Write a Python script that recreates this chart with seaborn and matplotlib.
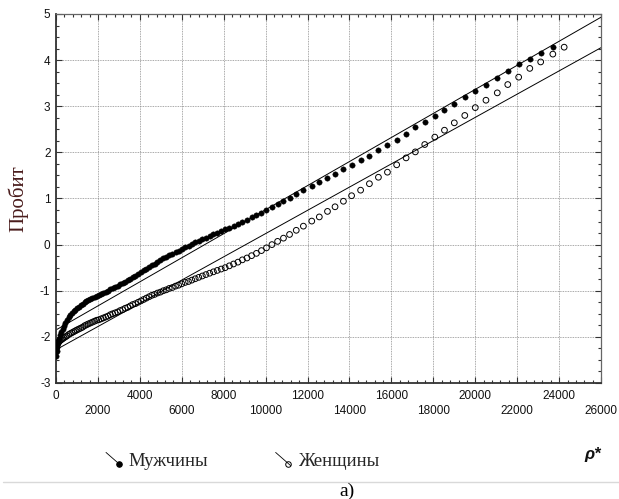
import matplotlib
matplotlib.use('Agg')
import matplotlib.pyplot as plt
from matplotlib.lines import Line2D
from matplotlib.legend_handler import HandlerBase
from matplotlib.ticker import MultipleLocator
import seaborn as sns
import pandas as pd

# rho* values (same grid for both groups, women have one extra point at the end)
rho_m = [0, 30, 60, 100, 150, 200, 260, 320, 380, 450, 520, 600, 680, 760, 840, 920,
         1000, 1090, 1180, 1270, 1360, 1450, 1540, 1640, 1740, 1840, 1940, 2040, 2150,
         2260, 2370, 2480, 2590, 2700, 2820, 2940, 3060, 3180, 3300, 3420, 3540, 3660,
         3790, 3920, 4050, 4180, 4310, 4440, 4570, 4700, 4840, 4980, 5120, 5260, 5400,
         5550, 5700, 5850, 6000, 6160, 6320, 6480, 6640, 6810, 6980, 7150, 7330, 7510,
         7690, 7880, 8070, 8270, 8470, 8680, 8890, 9110, 9330, 9560, 9800, 10040, 10300,
         10570, 10850, 11140, 11460, 11800, 12200, 12560, 12950, 13310, 13710, 14100,
         14530, 14950, 15380, 15810, 16250, 16700, 17140, 17590, 18070, 18530, 19000,
         19500, 20000, 20510, 21050, 21550, 22070, 22600, 23120, 23700]
rho_f = rho_m + [24240]

probit_m = [-2.42, -2.30, -2.22, -2.13, -2.04, -1.97, -1.89, -1.82, -1.76, -1.69, -1.64,
            -1.58, -1.53, -1.49, -1.45, -1.41, -1.38, -1.35, -1.32, -1.29, -1.25, -1.23,
            -1.20, -1.18, -1.16, -1.14, -1.12, -1.10, -1.08, -1.05, -1.03, -1.00, -0.97,
            -0.95, -0.92, -0.89, -0.86, -0.83, -0.80, -0.77, -0.74, -0.71, -0.68, -0.64,
            -0.60, -0.56, -0.52, -0.48, -0.44, -0.41, -0.37, -0.34, -0.30, -0.27, -0.23,
            -0.20, -0.16, -0.13, -0.09, -0.06, -0.02, 0.01, 0.05, 0.08, 0.12, 0.15, 0.19,
            0.22, 0.26, 0.29, 0.33, 0.37, 0.41, 0.45, 0.49, 0.54, 0.59, 0.64, 0.69, 0.75,
            0.81, 0.87, 0.94, 1.02, 1.10, 1.18, 1.27, 1.36, 1.45, 1.54, 1.64, 1.73, 1.83,
            1.93, 2.05, 2.15, 2.27, 2.40, 2.54, 2.66, 2.79, 2.92, 3.05, 3.19, 3.34, 3.47,
            3.62, 3.76, 3.91, 4.03, 4.15, 4.28]

probit_f = [-2.33, -2.24, -2.18, -2.13, -2.10, -2.08, -2.06, -2.04, -2.02, -2.00, -1.98,
            -1.95, -1.93, -1.91, -1.89, -1.87, -1.85, -1.83, -1.81, -1.79, -1.76, -1.74,
            -1.72, -1.70, -1.68, -1.66, -1.64, -1.63, -1.61, -1.59, -1.57, -1.55, -1.52,
            -1.50, -1.48, -1.46, -1.43, -1.41, -1.38, -1.36, -1.33, -1.30, -1.28, -1.25,
            -1.22, -1.19, -1.16, -1.13, -1.10, -1.08, -1.05, -1.03, -1.00, -0.98, -0.95,
            -0.93, -0.90, -0.88, -0.85, -0.82, -0.80, -0.77, -0.74, -0.71, -0.68, -0.65,
            -0.62, -0.59, -0.56, -0.53, -0.50, -0.46, -0.42, -0.38, -0.33, -0.29, -0.24,
            -0.19, -0.13, -0.07, 0.00, 0.07, 0.14, 0.22, 0.31, 0.40, 0.51, 0.60, 0.72,
            0.82, 0.94, 1.06, 1.18, 1.32, 1.46, 1.57, 1.73, 1.88, 2.01, 2.17, 2.33, 2.48,
            2.64, 2.80, 2.97, 3.13, 3.29, 3.47, 3.63, 3.82, 3.96, 4.13, 4.28]

# fitted straight lines (end points at the axis limits)
fit_x = [0, 26000]
fit_m = [-1.85, 4.93]
fit_f = [-2.28, 4.27]

x_ticks = list(range(0, 26001, 2000))

sns.set_style('ticks')
plt.rcParams['axes.unicode_minus'] = False
plt.rcParams['font.family'] = ['Liberation Sans', 'DejaVu Sans']

df_m = pd.DataFrame({'rho': rho_m, 'probit': probit_m})
df_f = pd.DataFrame({'rho': rho_f, 'probit': probit_f})
df_fit = pd.DataFrame({'rho': fit_x, 'm': fit_m, 'f': fit_f})

fig, ax = plt.subplots(figsize=(6.19, 4.99), dpi=100)
fig.subplots_adjust(left=0.0905, right=0.971, top=0.972, bottom=0.2325)

sns.lineplot(data=df_fit, x='rho', y='m', color='black', lw=0.7, ax=ax)
sns.lineplot(data=df_fit, x='rho', y='f', color='black', lw=0.7, ax=ax)
sns.scatterplot(data=df_f, x='rho', y='probit', marker='o', s=17, facecolor='none',
                edgecolor='black', linewidth=0.7, legend=False, ax=ax, zorder=3)
sns.scatterplot(data=df_m, x='rho', y='probit', marker='o', s=15, color='black',
                edgecolor='black', linewidth=0.3, legend=False, ax=ax, zorder=4)

ax.set_xlim(0, 26000)
ax.set_ylim(-3, 5)
ax.set_xticks(x_ticks)
ax.set_xticklabels([('' if i % 2 == 0 else '\n') + str(v) for i, v in enumerate(x_ticks)],
                   fontsize=8.5, linespacing=1.35)
ax.yaxis.set_major_locator(MultipleLocator(1))
ax.xaxis.set_minor_locator(MultipleLocator(400))
ax.yaxis.set_minor_locator(MultipleLocator(0.25))
ax.tick_params(axis='y', labelsize=8.5)
ax.tick_params(which='both', direction='in', top=True, right=True, colors='#333333',
               labelcolor='#111111')
ax.tick_params(which='major', length=4, width=0.8)
ax.tick_params(which='minor', length=2.5, width=0.8)
ax.tick_params(axis='x', pad=5)
ax.tick_params(axis='y', pad=4)
ax.grid(True, which='major', color='#8c8c8c', linestyle=(0, (1, 1)), lw=0.6)

for side in ['left', 'bottom']:
    ax.spines[side].set_linewidth(1.3)
    ax.spines[side].set_color('#333333')
for side in ['top', 'right']:
    ax.spines[side].set_linewidth(0.9)
    ax.spines[side].set_color('#666666')

ax.set_xlabel('')
ax.set_ylabel('Пробит', family='Liberation Serif', fontsize=15, color='#4a1c1c')
ax.yaxis.set_label_coords(-0.05, 0.5)


class DiagHandler(HandlerBase):
    def create_artists(self, legend, orig_handle, xdescent, ydescent, width, height,
                       fontsize, trans):
        seg = Line2D([0, width], [height, 0], color='black', lw=0.6, transform=trans)
        dot = Line2D([width * 0.85], [height * 0.15], marker='o', linestyle='none',
                     markersize=4, markerfacecolor=orig_handle.get_markerfacecolor(),
                     markeredgecolor='black', markeredgewidth=0.7, transform=trans)
        return [seg, dot]


h_m = Line2D([], [], marker='o', markerfacecolor='black')
h_f = Line2D([], [], marker='o', markerfacecolor='none')
fig.legend([h_m, h_f], ['Мужчины', 'Женщины'], handler_map={Line2D: DiagHandler()},
           loc='center left', bbox_to_anchor=(106 / 619, 1 - 461 / 499), ncol=2,
           frameon=False, prop={'family': 'Liberation Serif', 'size': 13.5},
           handlelength=0.8, handletextpad=0.4, columnspacing=3.6, borderpad=0,
           borderaxespad=0)

fig.text(593 / 619, 1 - 455 / 499, 'ρ*', fontsize=12, fontweight='bold', fontstyle='italic',
         ha='center', va='center', color='#111111')
fig.add_artist(Line2D([0.005, 1.0], [1 - 482 / 499] * 2, transform=fig.transFigure,
                      color='#d9d9d9', lw=1))
fig.text(347 / 619, 1 - 491 / 499, 'a)', family='Liberation Serif', fontsize=14,
         ha='center', va='center', color='black')

fig.savefig('out.png', dpi=100)
